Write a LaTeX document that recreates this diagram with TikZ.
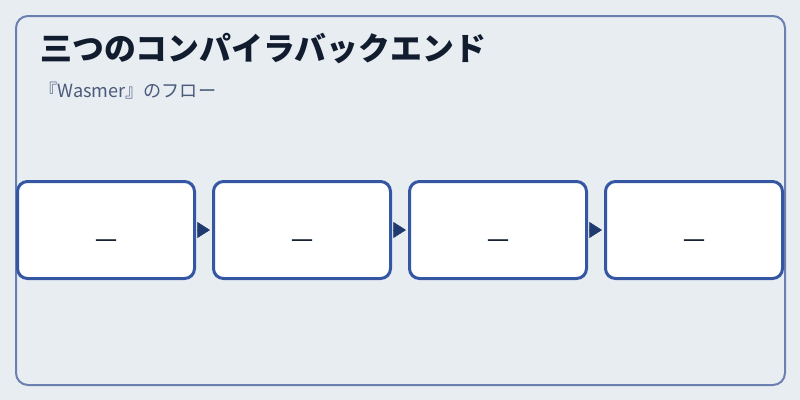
\documentclass[tikz,border=0pt]{standalone}
\usepackage{fontspec}
\setmainfont{Noto Sans CJK JP}
\newfontfamily\cjk{Noto Sans CJK JP}
\newfontfamily\dashfont{Noto Sans}
\usetikzlibrary{positioning,arrows.meta}

\definecolor{pagebg}{HTML}{E8EDF2}
\definecolor{framecol}{HTML}{6B80B0}
\definecolor{boxcol}{HTML}{3557A3}
\definecolor{arrowcol}{HTML}{1F3A6E}
\definecolor{titlecol}{HTML}{111C2E}
\definecolor{subcol}{HTML}{4A5A7A}

\tikzset{
  stepbox/.style={draw=boxcol, line width=2.25pt, fill=white, rounded corners=7.5pt,
    minimum width=132.75pt, minimum height=72.75pt, inner sep=0pt},
  flow/.style={draw=arrowcol, line width=0.4pt, -{Triangle[length=9.5pt,width=12pt]},
    shorten <=1.5pt, shorten >=1.5pt}
}

\begin{document}
\begin{tikzpicture}[x=0.75pt,y=0.75pt,yscale=-1,xscale=1, node distance=12pt]
%set diagram to 800 x 400
\useasboundingbox[fill=pagebg] (0,0) rectangle (800,400);

%Shape: Rectangle [frame]
\draw [draw=framecol, line width=1.5pt, rounded corners=9pt] (16,16) rectangle (785,385);

% Text Node
\node [anchor=base west, inner sep=0pt, text=titlecol, font=\cjk\bfseries\fontsize{23.9pt}{28pt}\selectfont] (title) at (40,60) {三つのコンパイラバックエンド};
% Text Node
\node [anchor=base west, inner sep=0pt, text=subcol, font=\cjk\fontsize{13.6pt}{16pt}\selectfont] (subtitle) at (39,97) {『Wasmer』のフロー};

%Shape: Boxes
\node [stepbox] (stepA) at (106,230) {};
\node [stepbox, right=of stepA] (stepB) {};
\node [stepbox, right=of stepB] (stepC) {};
\node [stepbox, right=of stepC] (stepD) {};

% Text Node
\foreach \s in {stepA,stepB,stepC,stepD}{
  \node [anchor=base, inner sep=0pt, text=titlecol, font=\dashfont\fontsize{16.5pt}{20pt}\selectfont] at ([yshift=12pt]\s.center) {—};
}

%Straight Lines
\draw [flow] (stepA) -- (stepB);
\draw [flow] (stepB) -- (stepC);
\draw [flow] (stepC) -- (stepD);

\end{tikzpicture}
\end{document}
